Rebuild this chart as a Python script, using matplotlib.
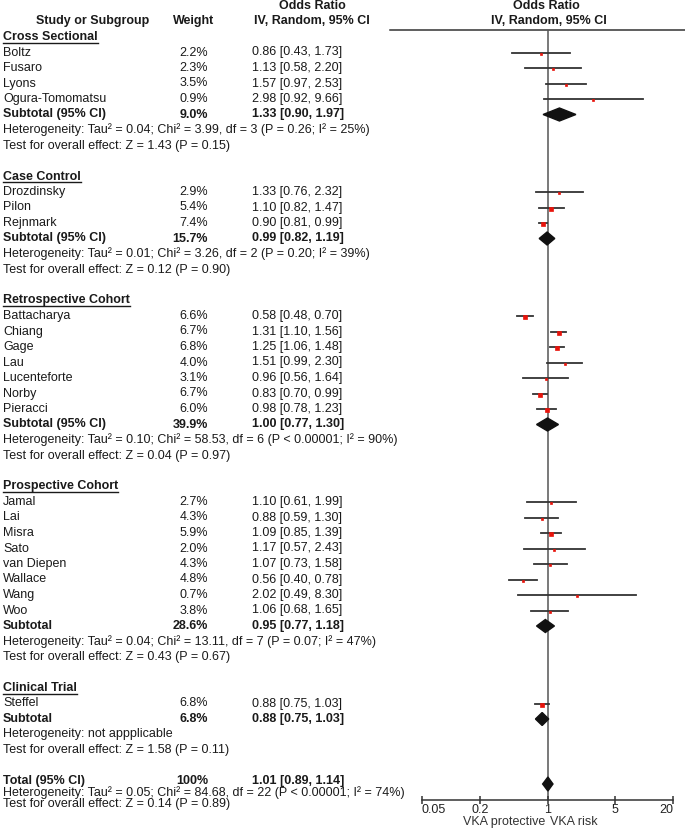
import numpy as np
import matplotlib
matplotlib.use('Agg')
import matplotlib.pyplot as plt

plt.rcParams['font.family'] = ['Liberation Sans', 'DejaVu Sans']

# data
groups = ['Cross Sectional', 'Case Control', 'Retrospective Cohort',
          'Prospective Cohort', 'Clinical Trial']
study_group = [0, 0, 0, 0, 1, 1, 1, 2, 2, 2, 2, 2, 2, 2,
               3, 3, 3, 3, 3, 3, 3, 3, 4]
study_names = ['Boltz', 'Fusaro', 'Lyons', 'Ogura-Tomomatsu',
               'Drozdinsky', 'Pilon', 'Rejnmark',
               'Battacharya', 'Chiang', 'Gage', 'Lau', 'Lucenteforte', 'Norby', 'Pieracci',
               'Jamal', 'Lai', 'Misra', 'Sato', 'van Diepen', 'Wallace', 'Wang', 'Woo',
               'Steffel']
weights = [2.2, 2.3, 3.5, 0.9,
           2.9, 5.4, 7.4,
           6.6, 6.7, 6.8, 4.0, 3.1, 6.7, 6.0,
           2.7, 4.3, 5.9, 2.0, 4.3, 4.8, 0.7, 3.8,
           6.8]
odds = [0.86, 1.13, 1.57, 2.98,
        1.33, 1.10, 0.90,
        0.58, 1.31, 1.25, 1.51, 0.96, 0.83, 0.98,
        1.10, 0.88, 1.09, 1.17, 1.07, 0.56, 2.02, 1.06,
        0.88]
ci_low = [0.43, 0.58, 0.97, 0.92,
          0.76, 0.82, 0.81,
          0.48, 1.10, 1.06, 0.99, 0.56, 0.70, 0.78,
          0.61, 0.59, 0.85, 0.57, 0.73, 0.40, 0.49, 0.68,
          0.75]
ci_high = [1.73, 2.20, 2.53, 9.66,
           2.32, 1.47, 0.99,
           0.70, 1.56, 1.48, 2.30, 1.64, 0.99, 1.23,
           1.99, 1.30, 1.39, 2.43, 1.58, 0.78, 8.30, 1.65,
           1.03]

sub_labels = ['Subtotal (95% CI)', 'Subtotal (95% CI)', 'Subtotal (95% CI)',
              'Subtotal', 'Subtotal']
sub_weight = ['9.0%', '15.7%', '39.9%', '28.6%', '6.8%']
sub_or = [1.33, 0.99, 1.00, 0.95, 0.88]
sub_low = [0.90, 0.82, 0.77, 0.77, 0.75]
sub_high = [1.97, 1.19, 1.30, 1.18, 1.03]
sub_het = ['Heterogeneity: Tau\u00b2 = 0.04; Chi\u00b2 = 3.99, df = 3 (P = 0.26; I\u00b2 = 25%)',
           'Heterogeneity: Tau\u00b2 = 0.01; Chi\u00b2 = 3.26, df = 2 (P = 0.20; I\u00b2 = 39%)',
           'Heterogeneity: Tau\u00b2 = 0.10; Chi\u00b2 = 58.53, df = 6 (P < 0.00001; I\u00b2 = 90%)',
           'Heterogeneity: Tau\u00b2 = 0.04; Chi\u00b2 = 13.11, df = 7 (P = 0.07; I\u00b2 = 47%)',
           'Heterogeneity: not appplicable']
sub_test = ['Test for overall effect: Z = 1.43 (P = 0.15)',
            'Test for overall effect: Z = 0.12 (P = 0.90)',
            'Test for overall effect: Z = 0.04 (P = 0.97)',
            'Test for overall effect: Z = 0.43 (P = 0.67)',
            'Test for overall effect: Z = 1.58 (P = 0.11)']

total_or, total_low, total_high = 1.01, 0.89, 1.14
total_het = 'Heterogeneity: Tau\u00b2 = 0.05; Chi\u00b2 = 84.68, df = 22 (P < 0.00001; I\u00b2 = 74%)'
total_test = 'Test for overall effect: Z = 0.14 (P = 0.89)'

tick_vals = [0.05, 0.2, 1, 5, 20]
tick_labels = ['0.05', '0.2', '1', '5', '20']

# figure, pixel coords
W, H = 685, 832
fig = plt.figure(figsize=(W / 100, H / 100), dpi=100)
ax = fig.add_axes([0, 0, 1, 1])
ax.set_xlim(0, W)
ax.set_ylim(H, 0)
ax.axis('off')

x0, x1 = 422, 673      # 0.05 .. 20
ytop, ybot = 30, 800
fx = fig.add_axes([x0 / W, 1 - ybot / H, (x1 - x0) / W, (ybot - ytop) / H])
fx.set_xscale('log')
fx.set_xlim(0.05, 20)
fx.set_ylim(ybot, ytop)
fx.patch.set_alpha(0)
for s in ['top', 'left', 'right']:
    fx.spines[s].set_visible(False)
fx.spines['bottom'].set_color('#333333')
fx.spines['bottom'].set_linewidth(1.1)
fx.set_yticks([])
fx.set_xticks(tick_vals)
fx.set_xticklabels(tick_labels)
fx.minorticks_off()
fx.tick_params(axis='x', direction='inout', length=6, width=1.1, color='#333333',
               labelsize=9, pad=0, labelcolor='#222222')
labs = fx.get_xticklabels()
labs[0].set_ha('left')
labs[-1].set_ha('right')

fs = 9
tc = '#1a1a1a'
xname, xw, xor = 3, 208, 252

# headers
ax.text(93, 21, 'Study or Subgroup', ha='center', va='center', fontsize=fs, fontweight='bold', color=tc)
ax.text(194, 21, 'Weight', ha='center', va='center', fontsize=fs, fontweight='bold', color=tc)
ax.text(312, 6, 'Odds Ratio', ha='center', va='center', fontsize=fs, fontweight='bold', color=tc)
ax.text(312, 21, 'IV, Random, 95% CI', ha='center', va='center', fontsize=fs, fontweight='bold', color=tc)
ax.text(546, 6, 'Odds Ratio', ha='center', va='center', fontsize=fs, fontweight='bold', color=tc)
ax.text(549, 21, 'IV, Random, 95% CI', ha='center', va='center', fontsize=fs, fontweight='bold', color=tc)
ax.plot([390, W], [30, 30], color='#333333', lw=1.1)

# vertical line at 1
fx.plot([1, 1], [ytop, ybot], color='#555555', lw=1.1, zorder=1)

step = 15.5
y = 37
heads = []
for g in range(len(groups)):
    t = ax.text(xname, y, groups[g], ha='left', va='center', fontsize=fs, fontweight='bold', color=tc)
    heads.append(t)
    y += step
    for i in range(len(study_names)):
        if study_group[i] != g:
            continue
        ax.text(xname, y, study_names[i], ha='left', va='center', fontsize=fs, color=tc)
        ax.text(xw, y, '%.1f%%' % weights[i], ha='right', va='center', fontsize=fs, color=tc)
        ax.text(xor, y, '%.2f [%.2f, %.2f]' % (odds[i], ci_low[i], ci_high[i]),
                ha='left', va='center', fontsize=fs, color=tc)
        fx.plot([ci_low[i], ci_high[i]], [y, y], color='#333333', lw=1.3, zorder=2)
        side = 2.2 + 0.15 * weights[i]
        fx.plot(odds[i], y + 1, marker='s', ms=side * 0.72, color='#e8140c',
                mec='#e8140c', mew=0.5, zorder=3)
        y += step
    ax.text(xname, y, sub_labels[g], ha='left', va='center', fontsize=fs, fontweight='bold', color=tc)
    ax.text(xw, y, sub_weight[g], ha='right', va='center', fontsize=fs, fontweight='bold', color=tc)
    ax.text(xor, y, '%.2f [%.2f, %.2f]' % (sub_or[g], sub_low[g], sub_high[g]),
            ha='left', va='center', fontsize=fs, fontweight='bold', color=tc)
    fx.fill([sub_low[g], sub_or[g], sub_high[g], sub_or[g]], [y, y - 6.5, y, y + 6.5],
            color='#111111', zorder=4)
    y += step
    ax.text(xname, y, sub_het[g], ha='left', va='center', fontsize=fs, color=tc)
    y += step
    ax.text(xname, y, sub_test[g], ha='left', va='center', fontsize=fs, color=tc)
    y += 2 * step

# total
y = 781
ax.text(xname, y, 'Total (95% CI)', ha='left', va='center', fontsize=fs, fontweight='bold', color=tc)
ax.text(xw, y, '100%', ha='right', va='center', fontsize=fs, fontweight='bold', color=tc)
ax.text(xor, y, '%.2f [%.2f, %.2f]' % (total_or, total_low, total_high),
        ha='left', va='center', fontsize=fs, fontweight='bold', color=tc)
fx.fill([total_low, total_or, total_high, total_or], [y + 3, y - 4, y + 3, y + 10],
        color='#111111', zorder=4)
ax.text(xname, 793, total_het, ha='left', va='center', fontsize=fs, color=tc)
ax.text(xname, 804.5, total_test, ha='left', va='center', fontsize=fs, color=tc)

ax.text(545, 822, 'VKA protective', ha='right', va='center', fontsize=fs, color='#333333')
ax.text(550, 822, 'VKA risk', ha='left', va='center', fontsize=fs, color='#333333')

# underline group headings
fig.canvas.draw()
r = fig.canvas.get_renderer()
inv = ax.transData.inverted()
for t in heads:
    bb = t.get_window_extent(renderer=r)
    (a, b), (c, d) = inv.transform([[bb.x0, bb.y0], [bb.x1, bb.y1]])
    ax.plot([a, c], [b - 0.5, b - 0.5], color=tc, lw=1.0)

fig.savefig('out.png', dpi=100)
